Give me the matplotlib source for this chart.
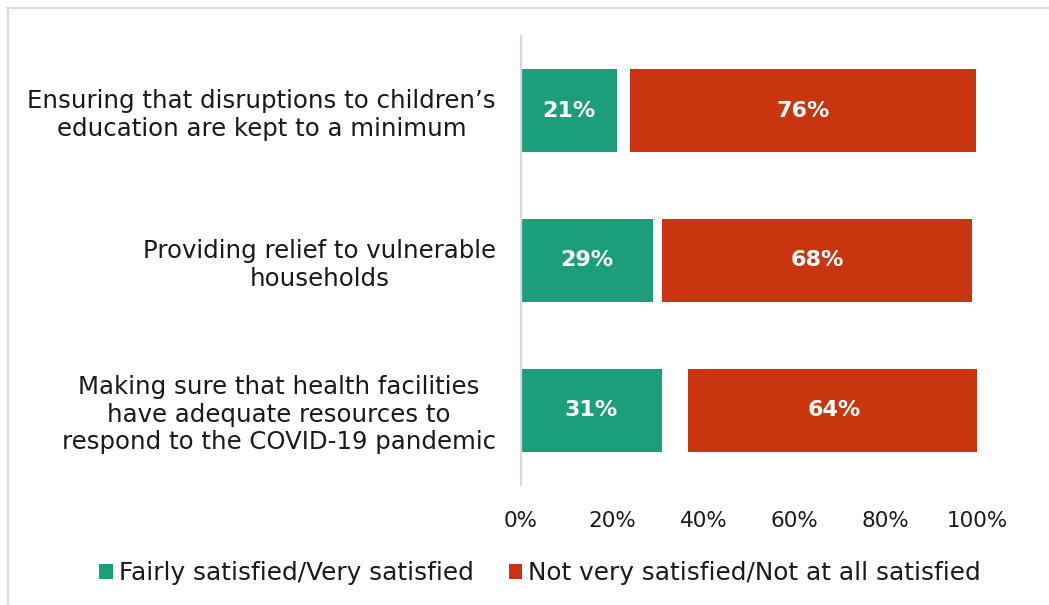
import matplotlib
matplotlib.use("Agg")
import matplotlib.pyplot as plt
from matplotlib.lines import Line2D

categories = [
    "Ensuring that disruptions to children\u2019s\neducation are kept to a minimum",
    "Providing relief to vulnerable\nhouseholds",
    "Making sure that health facilities\nhave adequate resources to\nrespond to the COVID-19 pandemic",
]
satisfied = [21, 29, 31]
gap_other = [2.8, 2.0, 5.6]   # unlabelled remainder (e.g. don't know), drawn invisible
not_satisfied = [76, 68, 64]
series_names = ["Fairly satisfied/Very satisfied", "Not very satisfied/Not at all satisfied"]
xticks = [0, 20, 40, 60, 80, 100]
xtick_labels = ["0%", "20%", "40%", "60%", "80%", "100%"]

GREEN = "#1d9e7b"
RED = "#c8350e"
FONT = "DejaVu Sans"
plt.rcParams["font.family"] = [FONT]

fig = plt.figure(figsize=(10.49, 6.05), dpi=100)
ax = fig.add_axes([521 / 1049, 1 - 485 / 605, 456 / 1049, 449 / 605])

y = list(range(len(categories)))
bh = 0.555
b1 = ax.barh(y, satisfied, height=bh, color=GREEN, label=series_names[0])
left_red = [s + g for s, g in zip(satisfied, gap_other)]
b2 = ax.barh(y, not_satisfied, left=left_red, height=bh, color=RED, label=series_names[1])

for bars, vals in ((b1, satisfied), (b2, not_satisfied)):
    for rect, v in zip(bars, vals):
        ax.text(rect.get_x() + rect.get_width() / 2, rect.get_y() + rect.get_height() / 2,
                f"{v}%", ha="center", va="center", color="white",
                fontsize=16, fontweight="bold")

ax.set_xlim(0, 100)
ax.set_ylim(len(categories) - 0.5, -0.5)
ax.set_xticks(xticks)
ax.set_xticklabels(xtick_labels, fontsize=15.5, color="#1a1a1a")
ax.set_yticks(y)
ax.set_yticklabels(categories, fontsize=17.6, color="#1a1a1a", multialignment="center",
                   linespacing=1.2)
ax.tick_params(axis="both", length=0)
ax.tick_params(axis="x", pad=19)
ax.tick_params(axis="y", pad=18)
for s in ("top", "right", "bottom"):
    ax.spines[s].set_visible(False)
ax.spines["left"].set_color("#d9d9d9")
ax.spines["left"].set_linewidth(1.6)

leg = fig.legend(handles=[b1, b2], labels=series_names, loc="center",
                 bbox_to_anchor=(0.515, 1 - 573 / 605), ncol=2, frameon=False,
                 fontsize=17.8, handlelength=0.55, handleheight=0.55, handletextpad=0.25,
                 columnspacing=1.4)
for t in leg.get_texts():
    t.set_color("#1a1a1a")

# outer frame (top and left edges visible)
fig.add_artist(Line2D([7 / 1049, 1.0], [1 - 7.5 / 605, 1 - 7.5 / 605],
                      transform=fig.transFigure, color="#d9d9d9", linewidth=1.5))
fig.add_artist(Line2D([7.5 / 1049, 7.5 / 1049], [0, 1 - 7.5 / 605],
                      transform=fig.transFigure, color="#d9d9d9", linewidth=1.5))

fig.savefig("out.png", dpi=100)
